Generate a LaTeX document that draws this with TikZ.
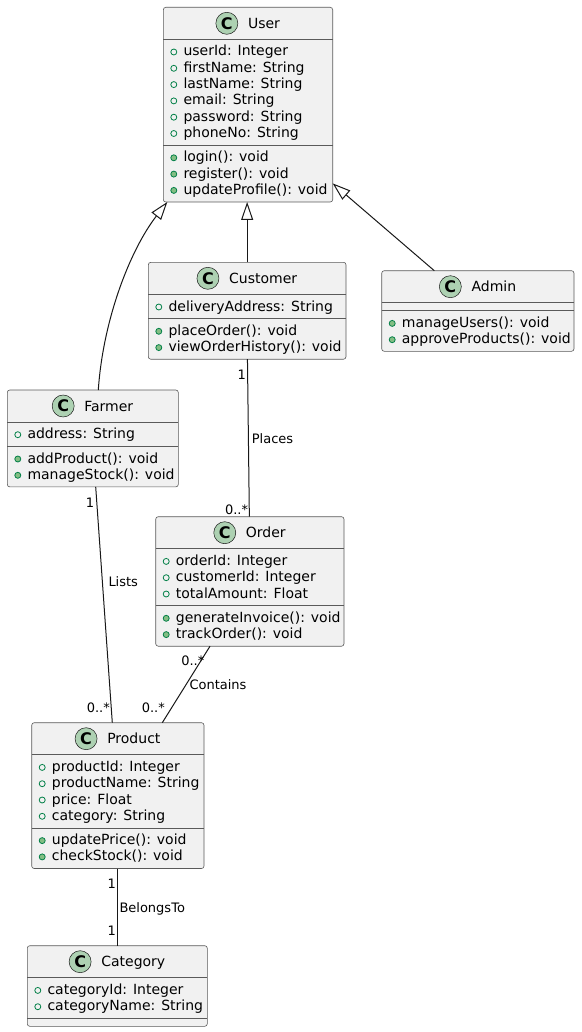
\documentclass[tikz,border=0pt]{standalone}
\usepackage{fontspec}
\setmainfont{DejaVu Sans}
\usetikzlibrary{arrows.meta,calc}
\definecolor{boxfill}{HTML}{F1F1F1}
\definecolor{boxline}{HTML}{181818}
\definecolor{divcol}{HTML}{5A5A5A}
\definecolor{badge}{HTML}{ADD1B2}
\definecolor{visline}{HTML}{038048}
\definecolor{visfill}{HTML}{84BE84}
\tikzset{
 classbox/.style={draw=divcol, fill=boxfill, line width=0.6pt, rounded corners=2.5pt, inner sep=0, outer sep=0},
 divline/.style={draw=divcol, line width=0.5pt},
 titletext/.style={inner sep=0, font=\fontsize{14}{16}\selectfont},
 member/.style={inner sep=0, font=\fontsize{14}{16}\selectfont},
 cbadge/.style={circle, draw=boxline, fill=badge, line width=0.5pt, minimum size=22pt, inner sep=0, font=\bfseries\fontsize{16}{16}\selectfont},
 attrmark/.style={draw=visline, line width=0.8pt},
 methmark/.style={draw=visline, fill=visfill, line width=0.8pt},
 assoc/.style={draw=boxline, line width=1pt},
 ext/.style={draw=boxline, line width=1pt, -{Triangle[open, length=18pt, width=12pt]}},
 elabel/.style={inner sep=0, font=\fontsize{13}{15}\selectfont},
}
% #1 name, #2 left, #3 right, #4 top, #5 n attrs, #6 n methods, #7 title, #8 attrs, #9 methods
\newcommand{\umlclass}[9]{%
 \pgfmathsetmacro\cH{#4+32}%
 \pgfmathsetmacro\cA{\cH+8+#5*16.3}%
 \pgfmathsetmacro\cB{\cA+8+#6*16.3}%
 \pgfmathsetmacro\cX{(#2+#3)/2}%
 \pgfmathsetmacro\cY{(#4+\cB)/2}%
 \pgfmathsetmacro\cW{#3-#2}%
 \pgfmathsetmacro\cHt{\cB-#4}%
 \node[classbox, minimum width=\cW pt, minimum height=\cHt pt] (#1) at (\cX,\cY) {};
 \draw[divline] (#2,\cH) -- (#3,\cH);
 \draw[divline] (#2,\cA) -- (#3,\cA);
 \node[titletext, anchor=base] (#1-t) at (\cX+16,#4+21) {#7};
 \node[cbadge] (#1-c) at ($(#1-t.base west)+(-21,-5)$) {C};
 \ifnum#5>0
 \foreach \m [count=\k from 0] in {#8} {
   \node[member, anchor=base west] (#1-a\k) at (#2+20,\cH+16.7+\k*16.3) {\m};
   \draw[attrmark] (#2+10.5,\cH+12.7+\k*16.3) circle (3);
 }
 \fi
 \ifnum#6>0
 \foreach \m [count=\k from 0] in {#9} {
   \node[member, anchor=base west] (#1-m\k) at (#2+20,\cA+16.7+\k*16.3) {\m};
   \draw[methmark] (#2+10.5,\cA+12.7+\k*16.3) circle (3);
 }
 \fi
}
\begin{document}
\begin{tikzpicture}[x=1pt,y=-1pt]
\useasboundingbox (0,0) rectangle (581,1032);

\umlclass{user}{163.3}{332.7}{7.3}{6}{3}{User}
 {userId: Integer,firstName: String,lastName: String,email: String,password: String,phoneNo: String}
 {login(): void,register(): void,updateProfile(): void}
\umlclass{customer}{148.3}{346}{262.3}{1}{2}{Customer}
 {deliveryAddress: String}
 {placeOrder(): void,viewOrderHistory(): void}
\umlclass{admin}{381.7}{574}{270.7}{0}{2}{Admin}
 {}
 {manageUsers(): void,approveProducts(): void}
\umlclass{farmer}{7.3}{178.3}{390}{1}{2}{Farmer}
 {address: String}
 {addProduct(): void,manageStock(): void}
\umlclass{order}{155.7}{344}{516.7}{3}{2}{Order}
 {orderId: Integer,customerId: Integer,totalAmount: Float}
 {generateInvoice(): void,trackOrder(): void}
\umlclass{product}{31.7}{204}{722.7}{4}{2}{Product}
 {productId: Integer,productName: String,price: Float,category: String}
 {updatePrice(): void,checkStock(): void}
\umlclass{category}{27.3}{207.3}{945.7}{2}{0}{Category}
 {categoryId: Integer,categoryName: String}
 {}

% generalizations
\draw[ext] ($(farmer.north west)+(91,0)$) .. controls (103,320) and (130,250) .. ($(user.south west)+(4,0)$);
\draw[ext] (customer.north) -- (customer.north |- user.south);
\draw[ext] ($(admin.north west)+(52.6,0)$) -- ($(user.south east)+(0,-18.6)$);

% associations
\draw[assoc] ($(customer.south)+(0.3,0)$) -- ($(order.north)+(-0.5,0)$);
\draw[assoc] ($(farmer.south west)+(88.4,0)$) -- ($(product.north west)+(80.6,0)$);
\draw[assoc] ($(order.south west)+(54.3,0)$) -- ($(product.north west)+(130.6,0)$);
\draw[assoc] ($(product.south west)+(85.6,0)$) -- ($(category.north west)+(90,0)$);

% labels
\node[elabel, anchor=base east] (lco1) at (246,379) {1};
\node[elabel, anchor=base west] (lco2) at (251.7,443) {Places};
\node[elabel, anchor=base east] (lco3) at (248.3,514) {0..*};
\node[elabel, anchor=base east] (lfp1) at (94.3,507.5) {1};
\node[elabel, anchor=base west] (lfp2) at (108.3,586) {Lists};
\node[elabel, anchor=base east] (lfp3) at (110,712) {0..*};
\node[elabel, anchor=base east] (lop1) at (204.5,665.5) {0..*};
\node[elabel, anchor=base west] (lop2) at (189.3,689) {Contains};
\node[elabel, anchor=base east] (lop3) at (165,712) {0..*};
\node[elabel, anchor=base east] (lpc1) at (116,888.5) {1};
\node[elabel, anchor=base west] (lpc2) at (119.3,912) {BelongsTo};
\node[elabel, anchor=base east] (lpc3) at (116,935) {1};
\end{tikzpicture}
\end{document}
